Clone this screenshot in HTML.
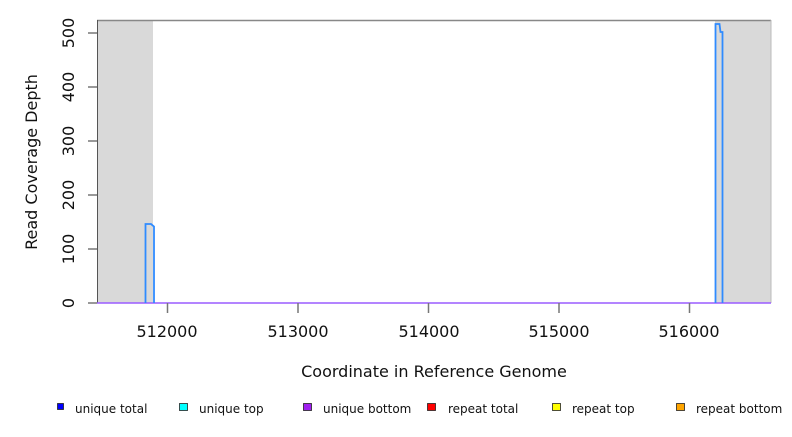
<!DOCTYPE html>
<html><head><style>body{margin:0;background:#fff}</style></head><body>
<svg width="792" height="432" xmlns="http://www.w3.org/2000/svg" font-family="'DejaVu Sans','Liberation Sans',sans-serif">
<rect width="792" height="432" fill="#fff"/>
<rect x="97" y="20" width="56" height="283" fill="#d9d9d9"/>
<rect x="715" y="20" width="56" height="283" fill="#d9d9d9"/>
<line x1="97" y1="20.5" x2="771" y2="20.5" stroke="#888" stroke-width="1.5"/>
<line x1="771" y1="20" x2="771" y2="303" stroke="#bbb" stroke-width="1"/>
<line x1="97.5" y1="20" x2="97.5" y2="303" stroke="#555" stroke-width="1"/>
<line x1="97" y1="303" x2="771" y2="303" stroke="#9a5cff" stroke-width="1.5"/>
<polyline fill="none" stroke="#2f8bff" stroke-width="1.8" points="145.5,303 145.5,224 151,224 154,226.5 154,303"/>
<polyline fill="none" stroke="#2f8bff" stroke-width="1.8" points="715.5,303 715.5,24 719.5,24 720.5,32 722.5,32 722.5,303"/>
<g stroke="#333" stroke-width="1">
<line x1="88" y1="33" x2="97" y2="33"/><line x1="88" y1="87" x2="97" y2="87"/><line x1="88" y1="141" x2="97" y2="141"/><line x1="88" y1="195" x2="97" y2="195"/><line x1="88" y1="249" x2="97" y2="249"/><line x1="88" y1="303" x2="97" y2="303"/>
</g>
<g stroke="#777" stroke-width="1.5">
<line x1="167.5" y1="303" x2="167.5" y2="313"/><line x1="298" y1="303" x2="298" y2="313"/><line x1="428.5" y1="303" x2="428.5" y2="313"/><line x1="559" y1="303" x2="559" y2="313"/><line x1="689.5" y1="303" x2="689.5" y2="313"/>
</g>
<g font-size="16" fill="#111" text-anchor="middle">
<text transform="translate(74,33) rotate(-90)">500</text>
<text transform="translate(74,87) rotate(-90)">400</text>
<text transform="translate(74,141) rotate(-90)">300</text>
<text transform="translate(74,195) rotate(-90)">200</text>
<text transform="translate(74,249) rotate(-90)">100</text>
<text transform="translate(74,303) rotate(-90)">0</text>
<text x="167" y="337">512000</text><text x="298" y="337">513000</text><text x="429" y="337">514000</text><text x="559" y="337">515000</text><text x="689" y="337">516000</text>
<text x="434" y="377">Coordinate in Reference Genome</text>
<text transform="translate(37,162) rotate(-90)">Read Coverage Depth</text>
</g>
<g font-size="12" fill="#111" stroke="#222" stroke-width="0.8">
<rect x="57.5" y="403.5" width="6" height="6" fill="#0000ff"/>
<rect x="179.5" y="403.5" width="8" height="7" fill="#00ffff"/>
<rect x="303.5" y="403.5" width="8" height="7" fill="#a020f0"/>
<rect x="427.5" y="403.5" width="8" height="7" fill="#ff0000"/>
<rect x="552.5" y="403.5" width="8" height="7" fill="#ffff00"/>
<rect x="676.5" y="403.5" width="8" height="7" fill="#ffa500"/>
</g>
<g font-size="12" fill="#111">
<text x="75" y="413">unique total</text>
<text x="199" y="413">unique top</text>
<text x="323" y="413">unique bottom</text>
<text x="448" y="413">repeat total</text>
<text x="572" y="413">repeat top</text>
<text x="696" y="413">repeat bottom</text>
</g>
</svg>
</body></html>
